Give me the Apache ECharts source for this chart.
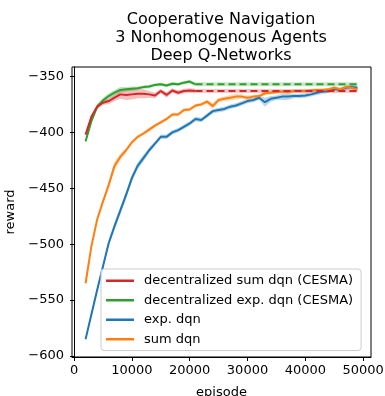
<!DOCTYPE html>
<html>
<head>
<meta charset="utf-8">
<script src="https://cdn.jsdelivr.net/npm/echarts@6/dist/echarts.min.js"></script>
<style>html,body{margin:0;padding:0;background:#fff;}#c{width:385px;height:396px;}</style>
</head>
<body>
<div id="c"></div>
<script>
const titleLines = ['Cooperative Navigation', '3 Nonhomogenous Agents', 'Deep Q-Networks'];
const xTicks = [0, 10000, 20000, 30000, 40000, 50000];
const yTicks = [-600, -550, -500, -450, -400, -350];

const episodes = [2000,3000,4000,5000,6000,7000,8000,9000,10000,11000,12000,13000,14000,15000,16000,17000,18000,19000,20000,21000,22000,23000,24000,25000,26000,27000,28000,29000,30000,31000,32000,33000,34000,35000,36000,37000,38000,39000,40000,41000,42000,43000,44000,45000,46000,47000,48000,49000];
const episodesDec = [2000,3000,4000,5000,6000,7000,8000,9000,10000,11000,12000,13000,14000,15000,16000,17000,18000,19000,20000,21000];
const dashedEpisodes = [21000, 49000];

const expDqn = [-585,-563,-541,-520,-499,-484,-470,-456,-441,-430,-423,-416,-410,-404,-404,-400,-398,-395,-392,-388,-389,-385,-381,-380,-379,-377,-376,-374,-372,-371,-369,-373,-370,-369,-368,-368,-367.5,-367.5,-367,-366,-364.5,-363.5,-363,-361,-362,-360,-359.5,-360];
const expDqnBand = [2.5,2.5,2.5,2.5,3,3.5,3.5,3.5,3.5,3,3,2.5,2,2,2,2,2,2,2,2,2,2,2,2,2,2,2,2,2,2,2,4,2.5,2,3,3,2,2,2,2,2,2,2,2,2,2,2,2];

const sumDqn = [-535,-502,-478,-462,-447,-430,-422,-416,-409,-404,-401,-397.5,-394,-391,-388,-384,-384,-380,-379.5,-376,-375,-372.5,-376.5,-371,-370,-369,-368,-368,-369,-368,-367.5,-365,-364.5,-364,-363.5,-364,-363,-363,-363,-362.5,-362,-362,-361.5,-360,-361.5,-359.5,-360,-361.5];
const sumDqnBand = [1.5,1.5,1.5,2,3,4,3,2,1.5,1.5,1.5,2,1.5,1.5,1.5,1.5,1.5,1.5,1.5,1.5,1.5,2,2.5,2,2,2.5,2.5,2,2,1.5,1.5,1.5,1.5,1.5,1.5,1.5,1.5,1.5,1.5,1.5,1.5,1.5,1.5,1.5,1.5,1.5,1.5,1.5];

const decExpDqn = [-408,-390,-377,-371.5,-367.5,-364.5,-362,-361.5,-361,-360.5,-359.5,-359,-357.5,-357,-358,-356.5,-357,-355.5,-354.5,-357];
const decExpDqnBand = [1.5,2,2.5,2.5,2.5,2.5,2.5,2,2,1.5,1.5,1.5,1.5,1.5,1.5,1.5,1.5,1.5,1.5,1.5];
const decExpFinal = -357;

const decSumDqn = [-402,-386,-377,-373.5,-372,-369,-366,-366.5,-366,-365.5,-365.5,-366,-367,-363,-366.5,-362.5,-364.5,-363,-362.5,-363];
const decSumDqnBand = [2,2,2,2,2.5,3,4,4.5,4.5,4,4,3,2.5,2,2.5,2,2,2,2,2];
const decSumFinal = -363;

const names = ['decentralized sum dqn (CESMA)', 'decentralized exp. dqn (CESMA)', 'exp. dqn', 'sum dqn'];
const colors = { red: '#d62728', green: '#2ca02c', blue: '#1f77b4', orange: '#ff7f0e' };

function bandSeries(xs, ys, hw, color) {
  return {
    type: 'custom', silent: true, z: 1, clip: true,
    data: [[xs[0], ys[0]]],
    renderItem: function (params, api) {
      const pts = [];
      for (let i = 0; i < xs.length; i++) pts.push(api.coord([xs[i], ys[i] + hw[i]]));
      for (let i = xs.length - 1; i >= 0; i--) pts.push(api.coord([xs[i], ys[i] - hw[i]]));
      return { type: 'polygon', shape: { points: pts }, style: { fill: color, opacity: 0.3 } };
    }
  };
}
function lineSeries(name, xs, ys, color) {
  return { name: name, type: 'line', data: xs.map((x, i) => [x, ys[i]]), symbol: 'none',
    lineStyle: { color: color, width: 2 }, itemStyle: { color: color }, z: 3 };
}
function dashedSeries(xs, v, color) {
  return [
    { type: 'line', data: xs.map(x => [x, v]), symbol: 'none', silent: true,
      lineStyle: { color: color, width: 4, opacity: 0.25 }, z: 2 },
    { type: 'line', data: xs.map(x => [x, v]), symbol: 'none', silent: true,
      lineStyle: { color: color, width: 2, type: [7, 4] }, z: 3 }
  ];
}

const series = [].concat(
  [bandSeries(episodes, expDqn, expDqnBand, colors.blue),
   bandSeries(episodes, sumDqn, sumDqnBand, colors.orange),
   bandSeries(episodesDec, decExpDqn, decExpDqnBand, colors.green),
   bandSeries(episodesDec, decSumDqn, decSumDqnBand, colors.red)],
  [lineSeries(names[2], episodes, expDqn, colors.blue),
   lineSeries(names[3], episodes, sumDqn, colors.orange),
   lineSeries(names[1], episodesDec, decExpDqn, colors.green),
   lineSeries(names[0], episodesDec, decSumDqn, colors.red)],
  dashedSeries(dashedEpisodes, decExpFinal, colors.green),
  dashedSeries(dashedEpisodes, decSumFinal, colors.red)
);

const font = 'DejaVu Sans';
const chart = echarts.init(document.getElementById('c'), null, { renderer: 'canvas' });
chart.setOption({
  animation: false,
  backgroundColor: '#fff',
  title: {
    text: titleLines.join('\n'), left: 221, top: 10.5, padding: 0, textAlign: 'center',
    textStyle: { fontFamily: font, fontSize: 16, fontWeight: 'normal', color: '#000', lineHeight: 18 }
  },
  grid: { left: 72, top: 67, width: 299, height: 290, show: true, borderColor: '#000', borderWidth: 1,
    backgroundColor: 'transparent', containLabel: false, outerBoundsMode: 'none' },
  legend: {
    data: names.map(n => ({ name: n, icon: 'rect' })),
    orient: 'vertical', left: 101, top: 269, width: 266,
    padding: [4.5, 8, 4, 5], itemWidth: 28, itemHeight: 2.5, itemGap: 5,
    backgroundColor: 'rgba(255,255,255,0.8)', borderColor: '#cccccc', borderWidth: 1, borderRadius: 3,
    textStyle: { fontFamily: font, fontSize: 13, color: '#000', lineHeight: 14.5, padding: [0, 0, 0, 5] }
  },
  xAxis: {
    type: 'value', min: -350, max: 51350,
    name: 'episode', nameLocation: 'middle', nameGap: 29,
    nameTextStyle: { fontFamily: font, fontSize: 13, color: '#000' },
    axisLine: { show: true, lineStyle: { color: '#000', width: 1 } },
    axisTick: { show: true, length: 4, lineStyle: { color: '#000' }, customValues: xTicks },
    axisLabel: { fontFamily: font, fontSize: 13, color: '#000', margin: 7, customValues: xTicks, formatter: v => String(v) },
    splitLine: { show: false }
  },
  yAxis: {
    type: 'value', min: -601, max: -341.5,
    name: 'reward', nameLocation: 'middle', nameGap: 47, nameRotate: 90,
    nameTextStyle: { fontFamily: font, fontSize: 13, color: '#000' },
    axisLine: { show: true, lineStyle: { color: '#000', width: 1 } },
    axisTick: { show: true, length: 4, lineStyle: { color: '#000' }, customValues: yTicks },
    axisLabel: { fontFamily: font, fontSize: 13, color: '#000', margin: 8, customValues: yTicks,
      formatter: v => (v < 0 ? '\u2212' + Math.abs(v) : String(v)) },
    splitLine: { show: false }
  },
  series: series
});
</script>
</body>
</html>
